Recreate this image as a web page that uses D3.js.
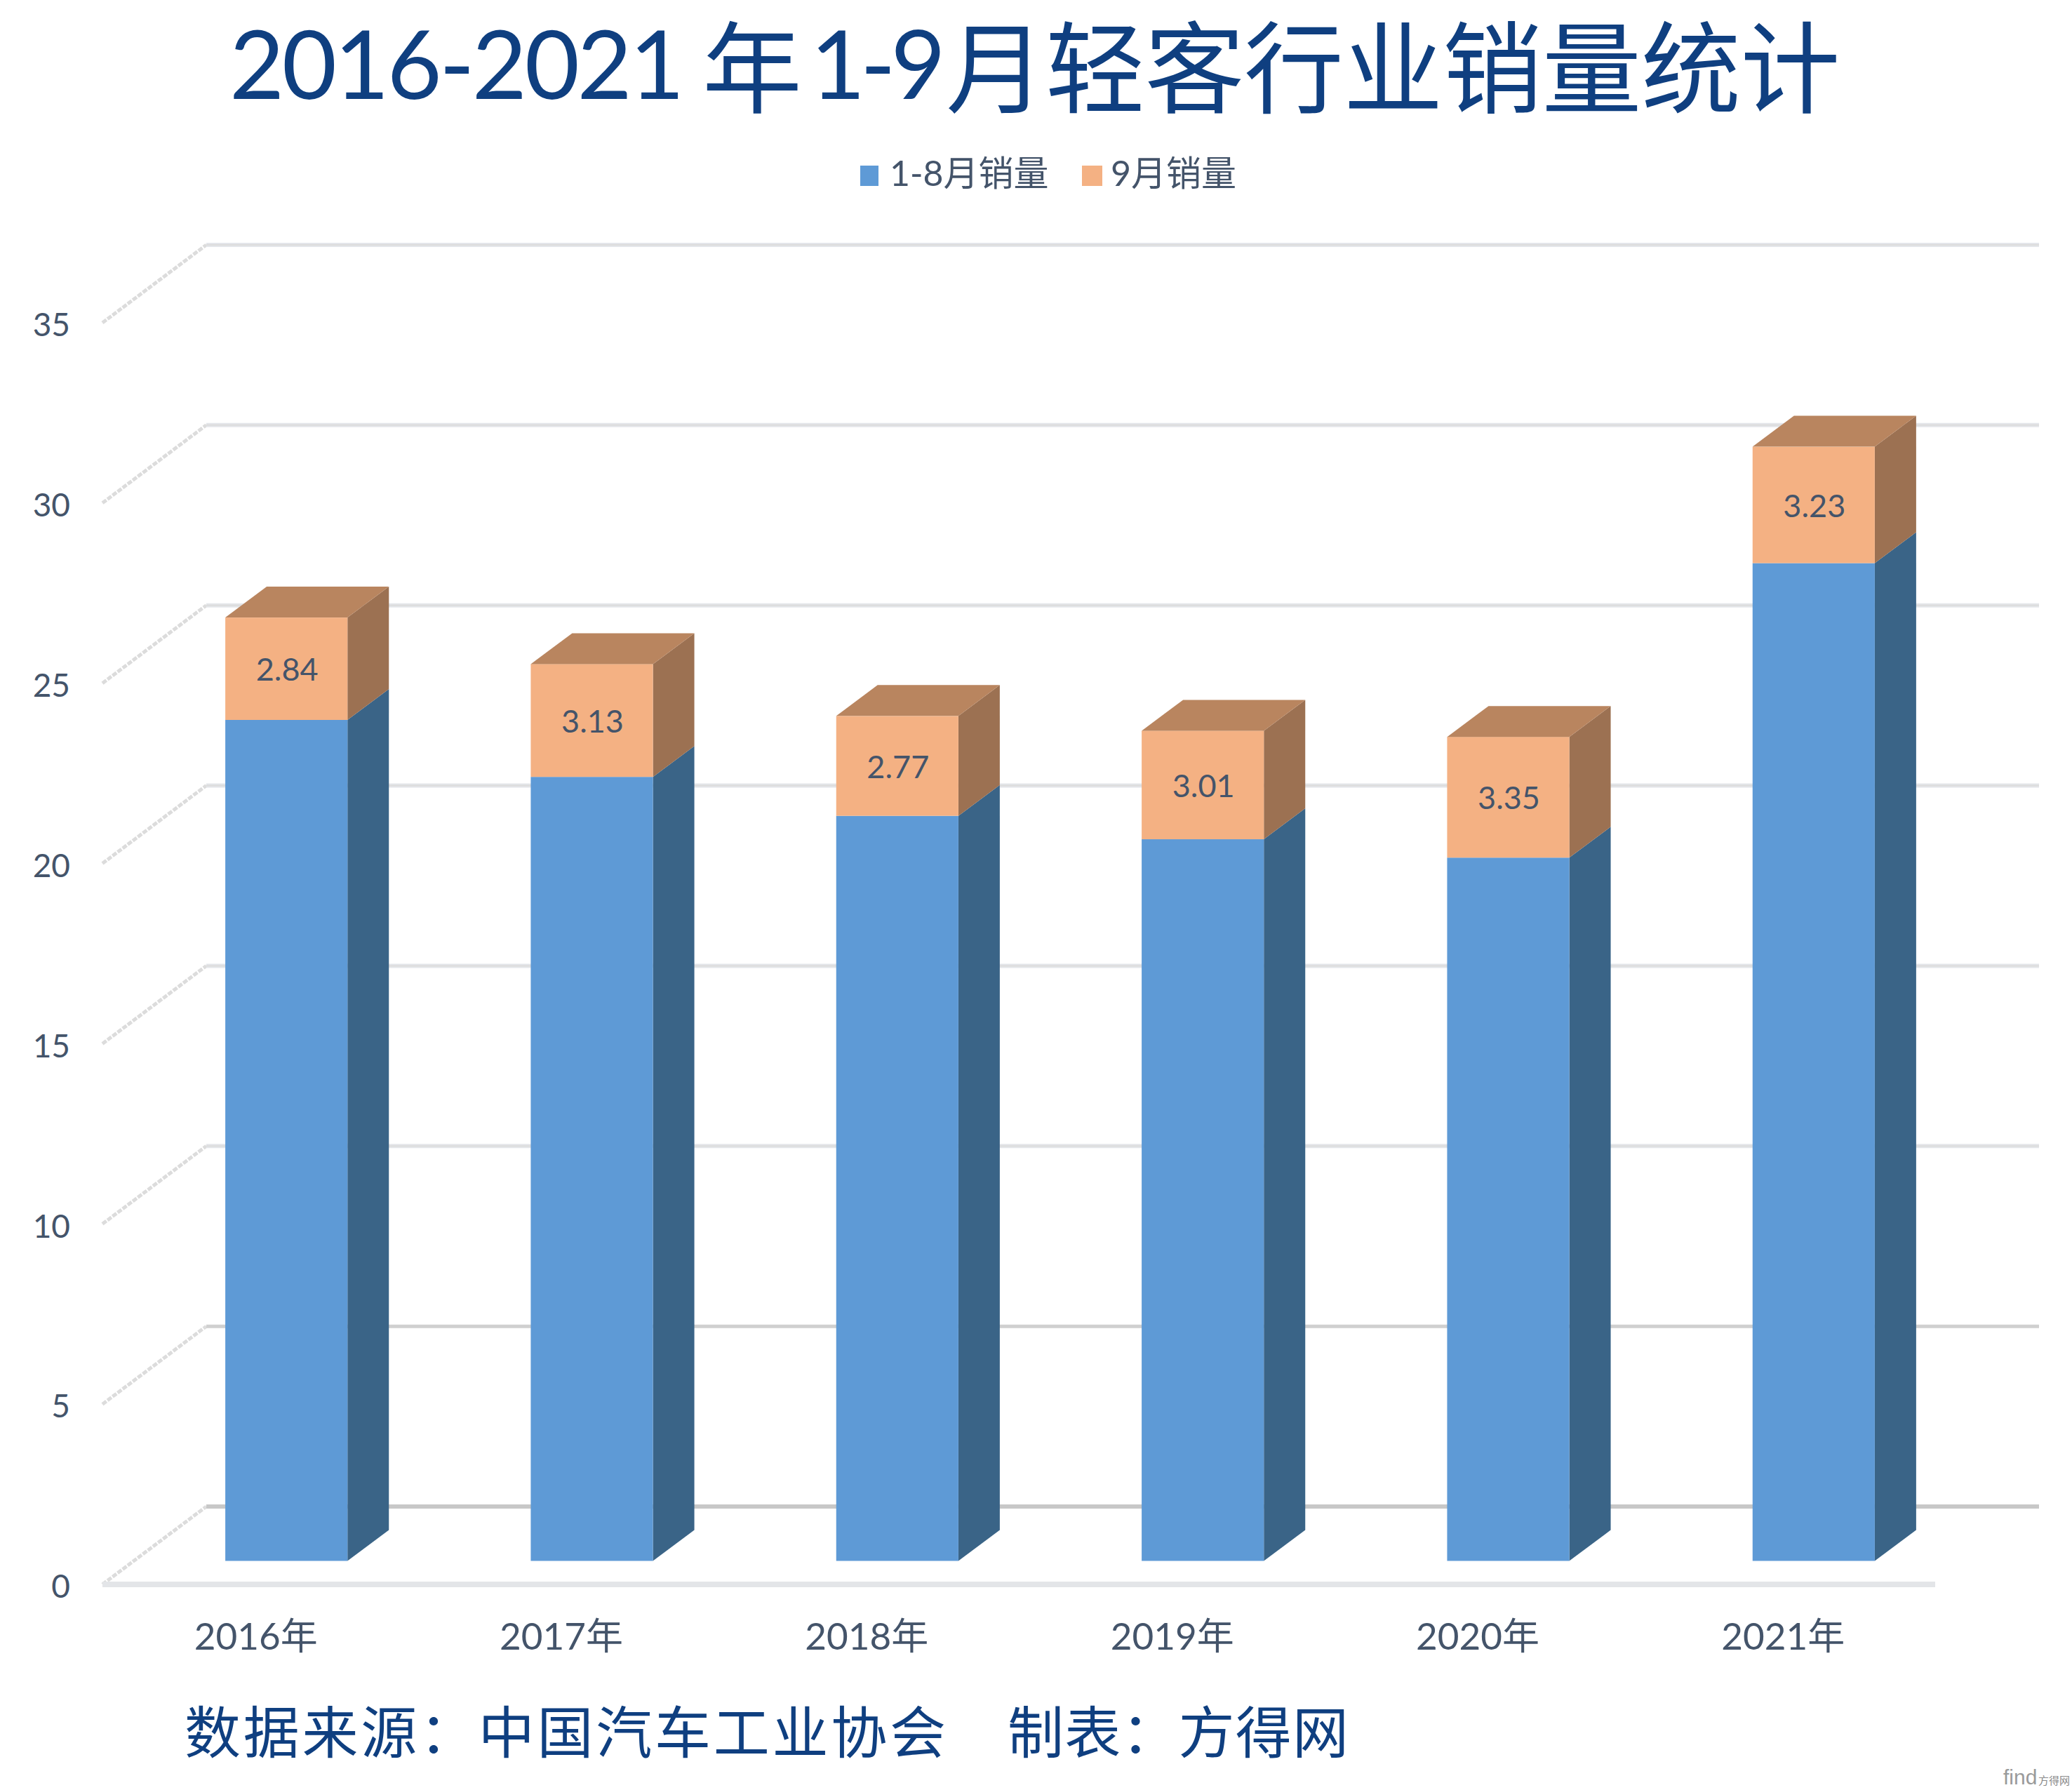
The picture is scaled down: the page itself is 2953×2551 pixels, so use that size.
<!DOCTYPE html>
<html><head><meta charset="utf-8">
<script src="https://cdnjs.cloudflare.com/ajax/libs/d3/7.8.5/d3.min.js"></script>
<style>
html,body{margin:0;padding:0;background:#fff;}
svg{display:block;}
text{font-family:Lato,"Noto Sans CJK SC","Noto Sans",sans-serif;}
</style></head><body>
<svg id="c" width="2953" height="2551"></svg>
<script>
const categories = ["2016年","2017年","2018年","2019年","2020年","2021年"];
const salesJanAug = [23.33,21.75,20.67,20.02,19.51,27.68];
const salesSep = [2.84,3.13,2.77,3.01,3.35,3.23];
const seriesNames = ["1-8月销量","9月销量"];
const yTicks = [0,5,10,15,20,25,30,35];
const titleRuns = ["2016-2021","年","1-9","月","轻客行业销量统计"];
const sourceParts = ["数据来源:中国汽车工业协会".replace(":","："),"制表:方得网".replace(":","：")];

const W=2953,H=2551;
const svg=d3.select("#c").attr("viewBox",[0,0,W,H]);
svg.append("rect").attr("width",W).attr("height",H).attr("fill","#fff");

const frontL=146, frontR=2758, wallR=2906;
const wallDx=148, wallDy=-112;          // depth of chart floor
const barDx=44.5, barDy=-33.5;          // front of bar inside the floor
const sideDx=59, sideDy=-44;            // depth of a bar
const x=d3.scaleBand().domain(categories).range([frontL,frontR]).paddingInner(0.6).paddingOuter(0.3);
const y=d3.scaleLinear().domain([0,35]).range([2258,460]);
const textCol="#44546a", titleCol="#0f3f80";
const colors={front:["#5e9ad6","#f4b183"],side:["#3a6487","#9c7152"],top:["#4a7bab","#b9855f"]};

// title: narrower latin runs, larger CJK runs, one text element
const titleLayout=[
  {x:327,y:141,size:135,ls:-3.5},
  {x:1001,y:150,size:142,ls:0},
  {x:1155,y:141,size:135,ls:-7},
  {x:1348,y:150,size:142,ls:0},
  {x:1490,y:150,size:142,ls:-0.5}
];
const title=svg.append("text").attr("fill",titleCol).attr("font-weight",400);
titleRuns.forEach((t,i)=>{
  const l=titleLayout[i];
  title.append("tspan").attr("x",l.x).attr("y",l.y).attr("font-size",l.size)
    .attr("letter-spacing",l.ls).text(t);
});

// legend
const legendItems=[{sx:1226,sw:26,tx:1268},{sx:1542,sw:29,tx:1583}];
legendItems.forEach((d,i)=>{
  svg.append("rect").attr("x",d.sx).attr("y",236).attr("width",d.sw).attr("height",29).attr("fill",colors.front[i]);
  svg.append("text").attr("x",d.tx).attr("y",265).attr("font-size",50).attr("font-weight",400)
    .attr("fill",textCol).text(seriesNames[i]);
});

// gridlines (wall + side wall)
const grid=svg.append("g");
yTicks.forEach(v=>{
  const yy=y(v), wy=yy+wallDy+1, wx=frontL+wallDx;
  const strong = v<=5;
  grid.append("line").attr("x1",frontL).attr("y1",yy).attr("x2",wx).attr("y2",wy)
    .attr("stroke","#dcdcdc").attr("stroke-width",5).attr("stroke-dasharray","7 2");
  if(v===0){
    grid.append("line").attr("x1",wx).attr("x2",frontR+wallDx).attr("y1",wy).attr("y2",wy)
      .attr("stroke","#c8c8c8").attr("stroke-width",6);
    grid.append("line").attr("x1",frontL).attr("x2",frontR).attr("y1",yy).attr("y2",yy)
      .attr("stroke","#e3e5e8").attr("stroke-width",8);
  } else {
    grid.append("line").attr("x1",wx).attr("x2",wallR).attr("y1",wy).attr("y2",wy)
      .attr("stroke",strong?"#d0d0d0":"#e4e6ea").attr("stroke-width",strong?5:6);
    if(!strong) grid.append("line").attr("x1",wx).attr("x2",wallR).attr("y1",wy).attr("y2",wy)
      .attr("stroke","#dcdcdc").attr("stroke-width",2);
  }
});

// axes
const yAxis=svg.append("g").attr("transform","translate(100,4)")
  .call(d3.axisLeft(y).tickValues(yTicks).tickSize(0).tickPadding(0));
yAxis.select(".domain").remove();
yAxis.selectAll("text").attr("font-size",46).attr("font-weight",400).attr("fill",textCol)
  .style("font-family",'Lato,"Noto Sans CJK SC"');
const xAxis=svg.append("g").attr("transform","translate(1,2302)")
  .call(d3.axisBottom(x).tickSize(0).tickPadding(0));
xAxis.select(".domain").remove();
xAxis.selectAll("text").attr("font-size",53).attr("font-weight",400).attr("fill",textCol)
  .attr("dy",0).attr("y",49).style("font-family",'Lato,"Noto Sans CJK SC"');

// stacked bars
const rows=categories.map((c,i)=>({cat:c,a:salesJanAug[i],b:salesSep[i]}));
const stacked=d3.stack().keys(["a","b"])(rows);
const bw=x.bandwidth();
const poly=pts=>pts.map(p=>p.join(",")).join(" ");
stacked.forEach((layer,si)=>{
  const g=svg.append("g");
  layer.forEach(d=>{
    const xl=x(d.data.cat)+barDx, xr=xl+bw;
    const y0=y(d[0])+barDy, y1=y(d[1])+barDy;
    g.append("polygon").attr("fill",colors.side[si])
      .attr("points",poly([[xr,y0],[xr+sideDx,y0+sideDy],[xr+sideDx,y1+sideDy],[xr,y1]]));
    g.append("rect").attr("x",xl).attr("y",y1).attr("width",bw).attr("height",y0-y1)
      .attr("fill",colors.front[si]);
    if(si===1){
      g.append("polygon").attr("fill",colors.top[si])
        .attr("points",poly([[xl,y1],[xl+sideDx,y1+sideDy],[xr+sideDx,y1+sideDy],[xr,y1]]));
      g.append("text").attr("x",(xl+xr)/2+1).attr("y",(y0+y1)/2+17).attr("text-anchor","middle")
        .attr("font-size",45).attr("fill",textCol).text(salesSep[categories.indexOf(d.data.cat)]);
    }
  });
});

// source line
const src=svg.append("g").attr("fill",titleCol).attr("font-size",80).attr("font-weight",400)
  .style("font-family",'"Noto Sans CJK SC"');
src.append("text").attr("x",263).attr("y",2498).attr("textLength",1085).attr("lengthAdjust","spacing").text(sourceParts[0]);
src.append("text").attr("x",1436).attr("y",2498).attr("textLength",486).attr("lengthAdjust","spacing").text(sourceParts[1]);

// watermark
const wm=svg.append("g").attr("transform","translate(2855,2543)");
wm.append("text").attr("font-size",30).attr("fill","#9a9a9a").style("font-family",'"Liberation Sans"').text("find");
wm.append("text").attr("x",50).attr("font-size",15).attr("fill","#8a8a8a").style("font-family",'"Noto Sans CJK SC"').text("方得网");
</script>
</body></html>
